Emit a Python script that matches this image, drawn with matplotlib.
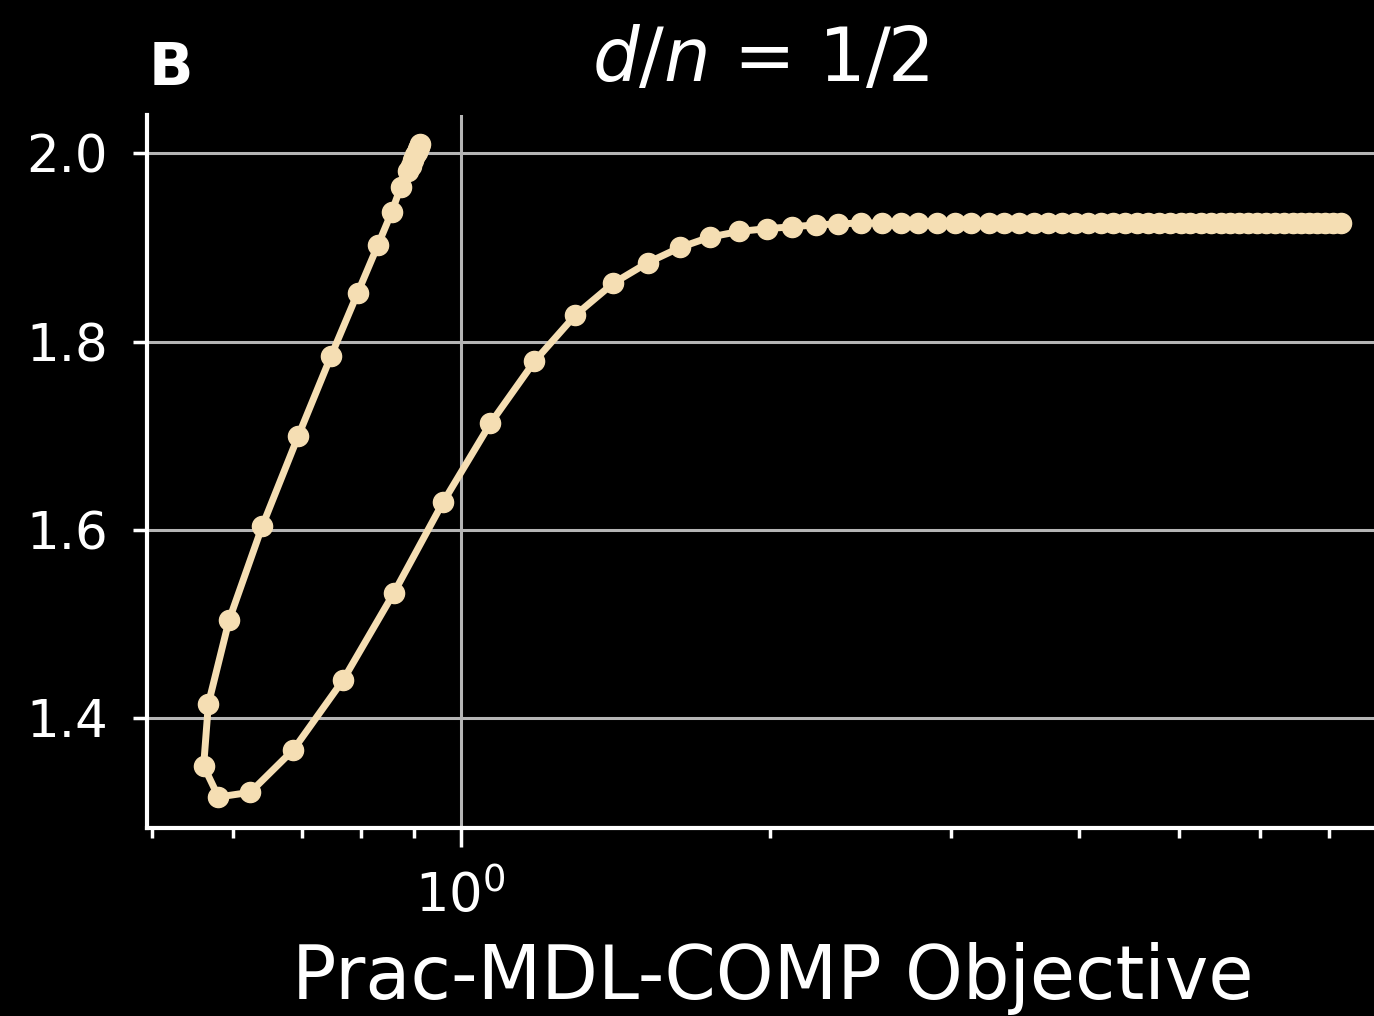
import matplotlib.pyplot as plt
from matplotlib.ticker import LogLocator, NullFormatter

# objective value (x) and risk (y) along the regularisation path
objective = [
    0.912, 0.910, 0.908, 0.906, 0.902, 0.898, 0.894, 0.888, 0.874, 0.857,
    0.831, 0.794, 0.748, 0.695, 0.641, 0.595, 0.568, 0.562, 0.581, 0.624,
    0.687, 0.768, 0.861, 0.961, 1.069, 1.180, 1.293, 1.408, 1.522, 1.635,
    1.748, 1.866, 1.987, 2.101, 2.216, 2.328, 2.451, 2.569, 2.681, 2.791,
    2.911, 3.031, 3.142, 3.271, 3.382, 3.498, 3.617, 3.732, 3.850, 3.963,
    4.077, 4.201, 4.315, 4.433, 4.551, 4.667, 4.783, 4.900, 5.023, 5.136,
    5.253, 5.372, 5.494, 5.617, 5.731, 5.848, 5.967, 6.088, 6.211, 6.338,
    6.467, 6.583, 6.703, 6.823, 6.946, 7.072, 7.200,
]
risk = [
    2.010, 2.007, 2.005, 2.002, 1.998, 1.993, 1.987, 1.981, 1.964, 1.938,
    1.903, 1.852, 1.785, 1.700, 1.604, 1.504, 1.415, 1.349, 1.316, 1.321,
    1.366, 1.440, 1.533, 1.629, 1.713, 1.779, 1.828, 1.862, 1.884, 1.900,
    1.911, 1.917, 1.920, 1.922, 1.924, 1.925, 1.926, 1.926, 1.926, 1.926,
    1.926, 1.926, 1.926, 1.926, 1.926, 1.926, 1.926, 1.926, 1.926, 1.926,
    1.926, 1.926, 1.926, 1.926, 1.926, 1.926, 1.926, 1.926, 1.926, 1.926,
    1.926, 1.926, 1.926, 1.926, 1.926, 1.926, 1.926, 1.926, 1.926, 1.926,
    1.926, 1.926, 1.926, 1.926, 1.926, 1.926, 1.926,
]
y_ticks = [1.4, 1.6, 1.8, 2.0]

fig = plt.figure(figsize=(13.74, 10.16), dpi=100, facecolor='black')
ax = fig.add_axes([0.107, 0.185, 0.893, 0.702])
ax.set_facecolor('black')

ax.plot(objective, risk, color='wheat', linewidth=5, marker='o',
        markersize=14.5, zorder=3)

ax.set_xscale('log')
ax.set_xlim(0.495, 7.75)
ax.set_ylim(1.283, 2.041)
ax.set_yticks(y_ticks)
ax.set_yticklabels([f'{v:.1f}' for v in y_ticks])
ax.xaxis.set_minor_locator(LogLocator(base=10, subs=range(2, 10), numticks=20))
ax.xaxis.set_minor_formatter(NullFormatter())

ax.grid(True, which='major', color='#b5b5b5', linewidth=2.2)
ax.set_axisbelow(True)

for side in ['top', 'right']:
    ax.spines[side].set_visible(False)
for side in ['left', 'bottom']:
    ax.spines[side].set_color('white')
    ax.spines[side].set_linewidth(3)

ax.tick_params(axis='y', which='major', colors='white', labelsize=37,
               width=2.5, length=10, pad=18)
ax.tick_params(axis='x', which='major', colors='white', labelsize=38,
               width=2.5, length=14, pad=16)
ax.tick_params(axis='x', which='minor', colors='white', width=2.5, length=7)

ax.set_xlabel('Prac-MDL-COMP Objective', color='white', fontsize=53, labelpad=14)
ax.xaxis.label.set_x(0.51)
ax.set_title('$d/n$ = 1/2', color='white', fontsize=53, pad=24)
fig.text(0.108, 0.905, 'B', color='white', fontsize=42, fontweight='bold',
         ha='left', va='bottom')

fig.savefig('out.png', dpi=100, facecolor='black')
